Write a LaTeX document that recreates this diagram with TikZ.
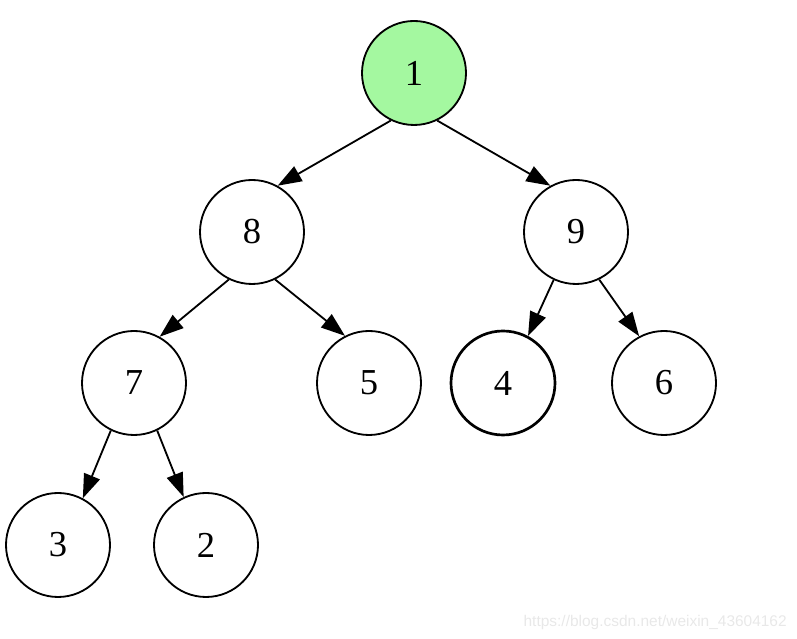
\documentclass[tikz,border=0pt]{standalone}
\usepackage{fontspec}
\setmainfont{Liberation Serif}
\newfontfamily\markfont{Liberation Sans}
\usepackage{tikz}
\usetikzlibrary{arrows.meta}
\usetikzlibrary{positioning}
\definecolor{rootgreen}{HTML}{A4F8A0}
\definecolor{markgray}{HTML}{E8E8E8}
\tikzstyle{vertex}=[draw,fill=white,circle,minimum size=2.6cm,inner sep=1pt,line width=1.3pt,font=\fontsize{26}{30}\selectfont]
\tikzstyle{edge}=[line width=1.3pt,-{Triangle[length=0.6cm,width=0.42cm]}]

\begin{document}
\begin{tikzpicture}
\useasboundingbox (0,0) rectangle (19.925,15.975);
\node [vertex,fill=rootgreen] (n1) at (10.35,14.15) {1};
\node [vertex] (n8) at (6.3,10.175) {8};
\node [vertex] (n9) at (14.4,10.175) {9};
\node [vertex] (n7) at (3.35,6.4) {7};
\node [vertex] (n5) at (9.225,6.4) {5};
\node [vertex,line width=1.9pt] (n4) at (12.575,6.4) {4};
\node [vertex] (n6) at (16.6,6.4) {6};
\node [vertex] (n3) at (1.45,2.35) {3};
\node [vertex] (n2) at (5.15,2.35) {2};
% edges leave low on the parent and enter high on the child
\draw [edge] (n1.244) -- (n8.61);
\draw [edge] (n1.296) -- (n9.119);
\draw [edge] (n8.244) -- (n7.61);
\draw [edge] (n8.296) -- (n5.117);
\draw [edge] (n9.245) -- (n4.62);
\draw [edge] (n9.296) -- (n6.118);
\draw [edge] (n7.244) -- (n3.62);
\draw [edge] (n7.296) -- (n2.115);
\node [text=markgray,anchor=east,inner sep=0pt,font=\markfont\fontsize{11}{13}\selectfont] (mark) at (19.675,0.42) {https://blog.csdn.net/weixin\_43604162};
\end{tikzpicture}
\end{document}
